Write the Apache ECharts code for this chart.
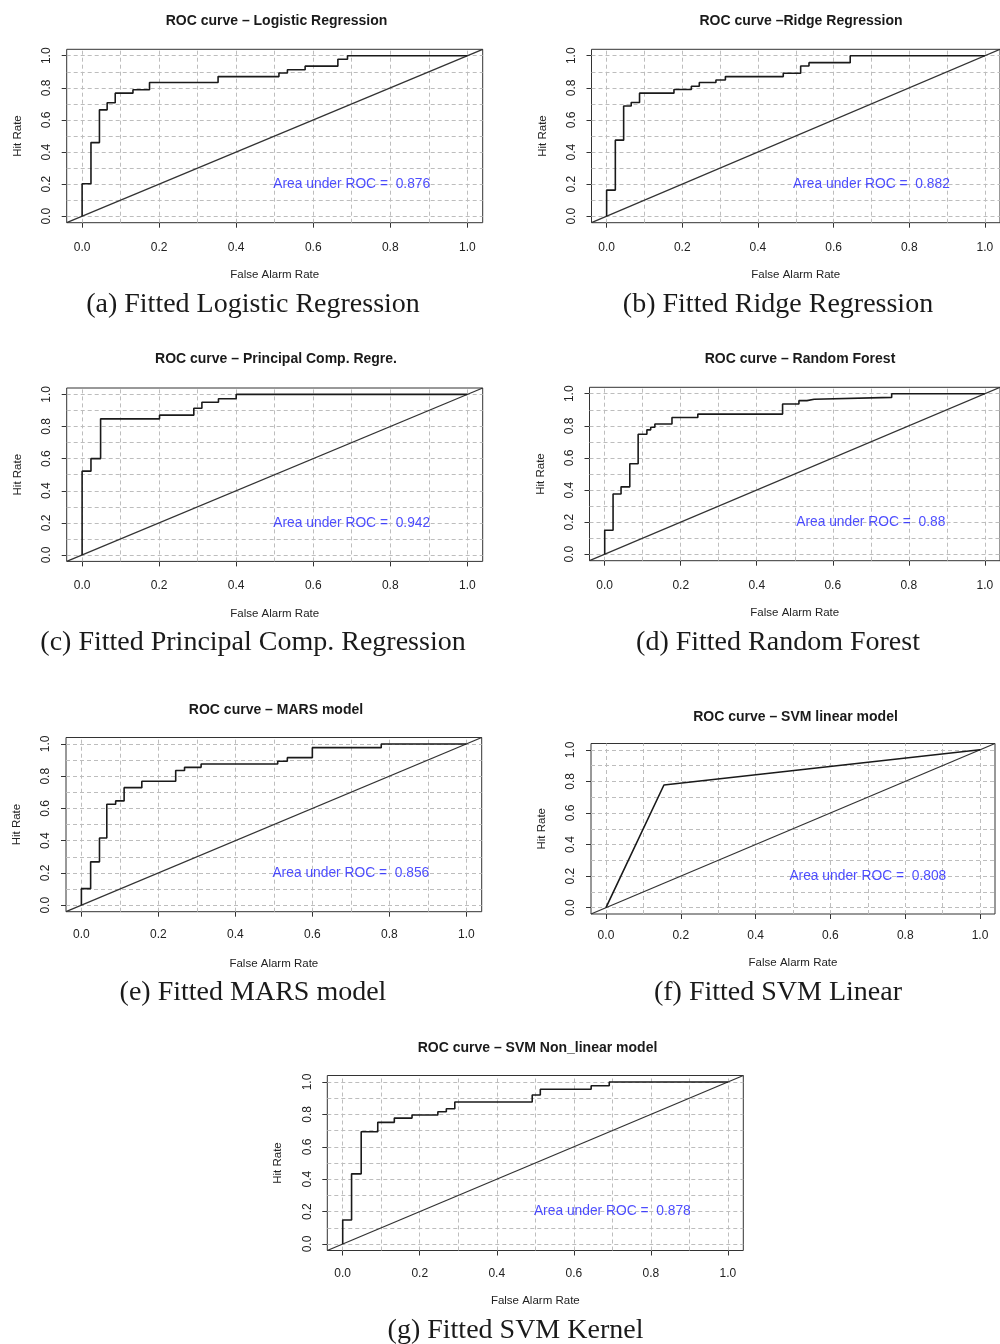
<!DOCTYPE html>
<html>
<head>
<meta charset="utf-8">
<script src="https://cdn.jsdelivr.net/npm/echarts@6/dist/echarts.min.js"></script>
<style>
html,body{margin:0;padding:0;background:#fff;}
#chart{width:1000px;height:1344px;}
</style>
</head>
<body>
<div id="chart"></div>
<script>
// ---- data ----
const axisTickValues = [0, 0.2, 0.4, 0.6, 0.8, 1.0];
const gridValues = [0, 0.1, 0.2, 0.3, 0.4, 0.5, 0.6, 0.7, 0.8, 0.9, 1.0];
const diagonalLine = [-0.04, 1.04];

const titles = [
  'ROC curve \u2013 Logistic Regression',
  'ROC curve \u2013Ridge Regression',
  'ROC curve \u2013 Principal Comp. Regre.',
  'ROC curve \u2013 Random Forest',
  'ROC curve \u2013 MARS model',
  'ROC curve \u2013 SVM linear model',
  'ROC curve \u2013 SVM Non_linear model'
];
const captions = [
  '(a) Fitted Logistic Regression',
  '(b) Fitted Ridge Regression',
  '(c) Fitted Principal Comp. Regression',
  '(d) Fitted Random Forest',
  '(e) Fitted MARS model',
  '(f) Fitted SVM Linear',
  '(g) Fitted SVM Kernel'
];
const aucValues = ['0.876', '0.882', '0.942', '0.88', '0.856', '0.808', '0.878'];

const logitFpr = [0, 0, 0.023, 0.045, 0.065, 0.086, 0.132, 0.175, 0.353, 0.511, 0.533, 0.579, 0.664, 0.689, 1];
const logitTpr = [0, 0.203, 0.459, 0.663, 0.707, 0.767, 0.788, 0.833, 0.870, 0.892, 0.913, 0.935, 0.978, 1.0, 1.0];

const ridgeFpr = [0, 0, 0.023, 0.045, 0.065, 0.087, 0.178, 0.224, 0.245, 0.289, 0.314, 0.467, 0.513, 0.535, 0.644, 1];
const ridgeTpr = [0, 0.163, 0.474, 0.687, 0.709, 0.767, 0.790, 0.810, 0.833, 0.849, 0.870, 0.891, 0.936, 0.957, 1.0, 1.0];

const pcrFpr = [0, 0, 0.023, 0.048, 0.201, 0.290, 0.311, 0.354, 0.400, 1];
const pcrTpr = [0, 0.522, 0.600, 0.848, 0.871, 0.914, 0.951, 0.973, 1.0, 1.0];

const rfFpr = [0, 0, 0.022, 0.043, 0.066, 0.088, 0.111, 0.121, 0.132, 0.177, 0.245, 0.468, 0.511, 0.532, 0.551, 0.755, 1];
const rfTpr = [0, 0.150, 0.375, 0.420, 0.564, 0.748, 0.775, 0.791, 0.811, 0.852, 0.873, 0.936, 0.957, 0.966, 0.977, 1.0, 1.0];

const marsFpr = [0, 0, 0.024, 0.047, 0.066, 0.089, 0.111, 0.157, 0.245, 0.268, 0.311, 0.510, 0.535, 0.600, 0.779, 1];
const marsTpr = [0, 0.103, 0.269, 0.417, 0.626, 0.647, 0.729, 0.769, 0.835, 0.855, 0.876, 0.893, 0.915, 0.977, 1.0, 1.0];

const svmLinFpr = [0, 0.155, 1];
const svmLinTpr = [0, 0.777, 1];

const svmKerFpr = [0, 0, 0.023, 0.048, 0.091, 0.134, 0.180, 0.247, 0.269, 0.291, 0.492, 0.513, 0.645, 0.692, 1];
const svmKerTpr = [0, 0.148, 0.433, 0.693, 0.751, 0.777, 0.796, 0.816, 0.835, 0.876, 0.920, 0.955, 0.977, 1.0, 1.0];

const rocFpr = [logitFpr, ridgeFpr, pcrFpr, rfFpr, marsFpr, svmLinFpr, svmKerFpr];
const rocTpr = [logitTpr, ridgeTpr, pcrTpr, rfTpr, marsTpr, svmLinTpr, svmKerTpr];
const stepped = [true, true, true, true, true, false, true];

// ---- layout (positions only) ----
const boxes = [
  {left: 66.7, top: 49.3, width: 416, height: 173.4},
  {left: 591.5, top: 49.3, width: 415, height: 173.4},
  {left: 66.7, top: 388, width: 416, height: 173.4},
  {left: 589.5, top: 387.3, width: 415, height: 173.4},
  {left: 66, top: 737.5, width: 415.7, height: 174.2},
  {left: 591, top: 743.5, width: 404, height: 170.5},
  {left: 327.3, top: 1075.5, width: 416, height: 175}
];
const xLabelMargin = [19, 19, 18, 19, 17, 16, 17];
const xNameGap = [46, 46, 46, 46, 46, 43, 44];
const titlePos = [[276.5, 21], [801, 21], [276, 359], [800, 359], [276, 710], [795.5, 717], [537.5, 1048]];
const captionPos = [[253, 305], [778, 305], [253, 643], [778, 643], [253, 993], [778, 993], [515.5, 1331]];

const SANS = '"Liberation Sans", Arial, Helvetica, sans-serif';
const SERIF = '"Liberation Serif", "Times New Roman", serif';

const grids = [], xAxes = [], yAxes = [], series = [], graphics = [];

boxes.forEach((b, i) => {
  grids.push({left: b.left, top: b.top, width: b.width, height: b.height,
    show: true, borderColor: '#333', borderWidth: 1, backgroundColor: 'transparent', containLabel: false});
  xAxes.push({
    gridIndex: i, type: 'value', min: -0.04, max: 1.04,
    axisLine: {show: false, onZero: false},
    splitLine: {show: false},
    axisTick: {show: true, length: 5, customValues: axisTickValues, lineStyle: {color: '#333'}},
    axisLabel: {customValues: axisTickValues, formatter: v => v.toFixed(1), margin: xLabelMargin[i],
      fontSize: 12, color: '#222', fontFamily: SANS},
    name: 'False Alarm Rate', nameLocation: 'middle', nameGap: xNameGap[i],
    nameTextStyle: {fontSize: 11.5, color: '#222', fontFamily: SANS}
  });
  yAxes.push({
    gridIndex: i, type: 'value', min: -0.04, max: 1.04,
    axisLine: {show: false, onZero: false},
    splitLine: {show: false},
    axisTick: {show: true, length: 5, customValues: axisTickValues, lineStyle: {color: '#333'}},
    axisLabel: {customValues: axisTickValues, formatter: v => v.toFixed(1), margin: 14, rotate: 90,
      fontSize: 12, color: '#222', fontFamily: SANS},
    name: 'Hit Rate', nameLocation: 'middle', nameGap: 43, nameRotate: 90,
    nameTextStyle: {fontSize: 11.5, color: '#222', fontFamily: SANS}
  });
  // grid lines (dashed) + diagonal reference line across the full box
  series.push({
    type: 'line', xAxisIndex: i, yAxisIndex: i, z: 2,
    data: diagonalLine.map(v => [v, v]), symbol: 'none', silent: true,
    lineStyle: {color: '#333', width: 1.3},
    markLine: {
      silent: true, symbol: ['none', 'none'], label: {show: false}, z: 1,
      lineStyle: {type: [4, 3], color: '#bdbdbd', width: 1},
      data: gridValues.map(v => ({xAxis: v})).concat(gridValues.map(v => ({yAxis: v})))
    }
  });
  // ROC curve
  series.push({
    type: 'line', xAxisIndex: i, yAxisIndex: i, z: 3,
    data: rocFpr[i].map((x, k) => [x, rocTpr[i][k]]),
    step: stepped[i] ? 'end' : false,
    symbol: 'none', silent: true,
    lineStyle: {color: '#1a1a1a', width: 1.6}
  });
  // AUC annotation anchored at (0.7, 0.2)
  series.push({
    type: 'scatter', xAxisIndex: i, yAxisIndex: i, z: 4,
    data: [[0.7, 0.2]], symbolSize: 0, silent: true,
    label: {show: true, position: 'inside', formatter: 'Area under ROC =  ' + aucValues[i],
      color: '#2222ff', fontSize: 13.8, fontFamily: SANS}
  });
  graphics.push({type: 'text', x: titlePos[i][0], y: titlePos[i][1],
    style: {text: titles[i], fill: '#1a1a1a', font: 'bold 14px ' + SANS, textAlign: 'center', textVerticalAlign: 'middle'}});
  graphics.push({type: 'text', x: captionPos[i][0], y: captionPos[i][1],
    style: {text: captions[i], fill: '#1a1a1a', font: '28px ' + SERIF, textAlign: 'center', textVerticalAlign: 'middle'}});
});

const chart = echarts.init(document.getElementById('chart'), null, {renderer: 'canvas'});
chart.setOption({
  animation: false,
  backgroundColor: '#ffffff',
  grid: grids, xAxis: xAxes, yAxis: yAxes, series: series, graphic: graphics
});
</script>
</body>
</html>
